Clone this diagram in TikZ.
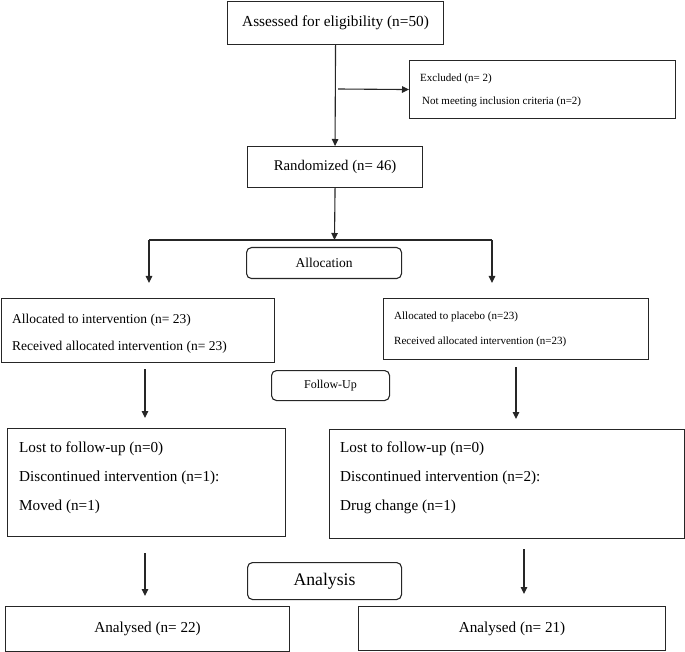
\documentclass[tikz,border=0pt]{standalone}
\usepackage{fontspec}
\setmainfont{Liberation Serif}
\usetikzlibrary{arrows.meta,positioning}
\tikzset{
  box/.style={draw=black!85, line width=1.1pt, rectangle, inner sep=0pt, anchor=north west},
  rbox/.style={box, rounded corners=5pt},
  lines/.style={anchor=north west, align=left, inner sep=0pt},
  flow/.style={draw=black!85, line width=1.1pt, -{Triangle[length=7pt,width=6.5pt]}},
  link/.style={draw=black!85, line width=1.1pt}
}
\newcommand{\fs}[2]{\fontsize{#1}{#2}\selectfont}

\begin{document}
\begin{tikzpicture}[x=1pt,y=-1pt]
\useasboundingbox (0,0) rectangle (685,652);

% enrolment
\node[box, minimum width=216pt, minimum height=43pt, font=\fs{15.3}{18}] (assess) at (227,1) {Assessed for eligibility (n=50)};
\node[box, minimum width=266pt, minimum height=58pt] (excl) at (409,60) {};
\node[lines, font=\fs{11}{23}] (excltxt) at ([shift={(11,14)}]excl.north west) {Excluded (n= 2)\\\hspace*{2pt}Not meeting inclusion criteria (n=2)};
\node[box, minimum width=175pt, minimum height=41pt, font=\fs{14.8}{18}] (rand) at (247,146) {Randomized (n= 46)};

% allocation
\node[rbox, minimum width=155pt, minimum height=31pt, font=\fs{13.5}{16}] (alloc) at (246,247) {Allocation};
\node[box, minimum width=273pt, minimum height=64pt] (intv) at (1,298) {};
\node[lines, font=\fs{13.5}{27}] (intvtxt) at ([shift={(11,16)}]intv.north west) {Allocated to intervention (n= 23)\\Received allocated intervention (n= 23)};
\node[box, minimum width=265pt, minimum height=61pt] (plac) at (383,298) {};
\node[lines, font=\fs{11}{25}] (plactxt) at ([shift={(11,14)}]plac.north west) {Allocated to placebo (n=23)\\Received allocated intervention (n=23)};

% follow-up
\node[rbox, minimum width=118pt, minimum height=30pt, font=\fs{12}{14}] (follow) at (271,370) {Follow-Up};
\node[box, minimum width=278pt, minimum height=108pt] (lost1) at (7,428) {};
\node[lines, font=\fs{15.2}{29}] (lost1txt) at ([shift={(12,13.5)}]lost1.north west) {Lost to follow-up (n=0)\\Discontinued intervention (n=1):\\Moved (n=1)};
\node[box, minimum width=355pt, minimum height=109pt] (lost2) at (329,429) {};
\node[lines, font=\fs{15.2}{29}] (lost2txt) at ([shift={(11,12.5)}]lost2.north west) {Lost to follow-up (n=0)\\Discontinued intervention (n=2):\\Drug change (n=1)};

% analysis
\node[rbox, minimum width=154pt, minimum height=37pt, font=\fs{17.7}{20}] (analysis) at (247,562) {Analysis};
\node[box, minimum width=284pt, minimum height=45pt, font=\fs{15.2}{18}] (an1) at (5,606) {Analysed (n= 22)};
\node[box, minimum width=307pt, minimum height=44pt, font=\fs{15.2}{18}] (an2) at (358,606) {Analysed (n= 21)};

% free ends of the connectors
\coordinate (exclfrom) at (338,89);
\coordinate (split) at (334.5,240);
\coordinate (lsplit) at (149,240);
\coordinate (rsplit) at (492,240);
\coordinate (lalloc) at (149,283);
\coordinate (ralloc) at (492,283);
\coordinate (lfollowA) at (145,369);
\coordinate (lfollowB) at (145,418);
\coordinate (rfollowA) at (516,367);
\coordinate (rfollowB) at (516,419);
\coordinate (lanA) at (145,553);
\coordinate (lanB) at (145,596);
\coordinate (ranA) at (524,549);
\coordinate (ranB) at (524,594);

\draw[flow] (assess.south) -- (rand.north);
\draw[flow] (exclfrom) -- (excl.west);
\draw[flow] (rand.south) -- (split);
\draw[link] (lsplit) -- (rsplit);
\draw[flow] (lsplit) -- (lalloc);
\draw[flow] (rsplit) -- (ralloc);
\draw[flow] (lfollowA) -- (lfollowB);
\draw[flow] (rfollowA) -- (rfollowB);
\draw[flow] (lanA) -- (lanB);
\draw[flow] (ranA) -- (ranB);
\end{tikzpicture}
\end{document}
